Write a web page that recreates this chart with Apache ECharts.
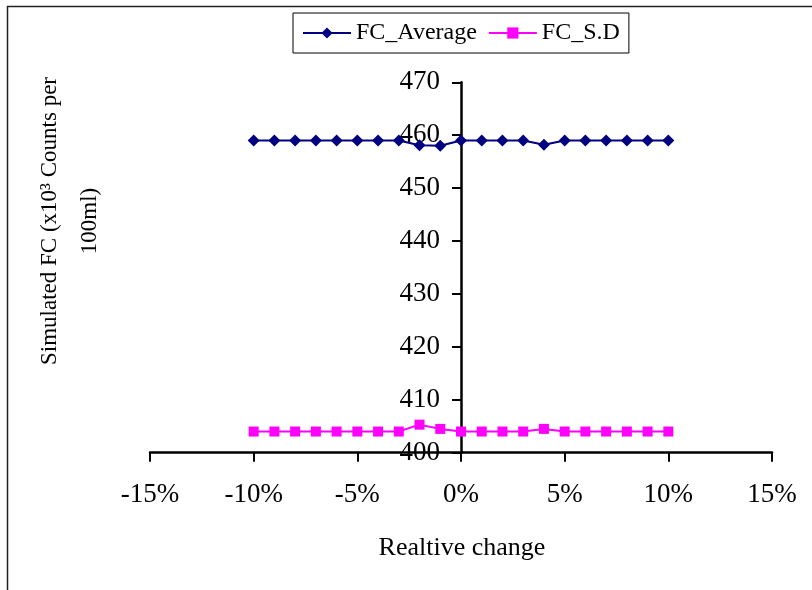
<!DOCTYPE html>
<html>
<head>
<meta charset="utf-8">
<script src="https://cdn.jsdelivr.net/npm/echarts@6/dist/echarts.min.js"></script>
<style>
  html, body { margin: 0; padding: 0; background: #fff; }
  #chart { width: 812px; height: 590px; }
</style>
</head>
<body>
<div id="chart"></div>
<script>
// Relative change of the input parameter (%)
const relChange = [-10, -9, -8, -7, -6, -5, -4, -3, -2, -1, 0, 1, 2, 3, 4, 5, 6, 7, 8, 9, 10];
// Simulated FC average (x10^3 counts per 100 ml)
const fcAverage = [459, 459, 459, 459, 459, 459, 459, 459, 458.1, 458, 459, 459, 459, 459, 458.2, 459, 459, 459, 459, 459, 459];
// Simulated FC standard deviation
const fcSD = [404, 404, 404, 404, 404, 404, 404, 404, 405.3, 404.5, 404, 404, 404, 404, 404.5, 404, 404, 404, 404, 404, 404];
// Axis ticks
const xTicks = { min: -15, max: 15, step: 5 };
const yTicks = { min: 400, max: 470, step: 10 };

const FONT = '"Liberation Serif", "Times New Roman", serif';

const GRID = { left: 150, right: 40, top: 82.3, bottom: 137.3 };
const plotWidth = 812 - GRID.left - GRID.right;
// the vertical axis crosses the horizontal one at 0 %
const yAxisOffset = -plotWidth * (0 - xTicks.min) / (xTicks.max - xTicks.min);

const chart = echarts.init(document.getElementById('chart'), null, { renderer: 'canvas' });

const pairs = (ys) => relChange.map((x, i) => [x, ys[i]]);

chart.setOption({
  animation: false,
  backgroundColor: '#fff',
  grid: Object.assign({ containLabel: false }, GRID),
  legend: {
    left: 293,
    top: 13,
    padding: [8, 9, 8, 9],
    borderColor: '#000',
    borderWidth: 1,
    itemWidth: 48,
    itemHeight: 14,
    itemGap: 11,
    textStyle: { fontFamily: FONT, fontSize: 24, color: '#000' },
    data: ['FC_Average', 'FC_S.D']
  },
  xAxis: {
    type: 'value',
    min: xTicks.min,
    max: xTicks.max,
    interval: xTicks.step,
    splitLine: { show: false },
    axisLine: { show: true, onZero: false, lineStyle: { color: '#000', width: 2.5 } },
    axisTick: { show: true, length: 9, lineStyle: { color: '#000', width: 2 } },
    axisLabel: {
      margin: 29,
      fontFamily: FONT,
      fontSize: 27,
      color: '#000',
      formatter: (v) => v + '%'
    }
  },
  yAxis: {
    type: 'value',
    min: yTicks.min,
    max: yTicks.max,
    interval: yTicks.step,
    offset: yAxisOffset,
    splitLine: { show: false },
    axisLine: { show: true, onZero: false, lineStyle: { color: '#000', width: 2.5 } },
    axisTick: { show: true, length: 9, lineStyle: { color: '#000', width: 2 } },
    axisLabel: { margin: 21, fontFamily: FONT, fontSize: 27, color: '#000' }
  },
  series: [
    {
      name: 'FC_Average',
      type: 'line',
      data: pairs(fcAverage),
      symbol: 'diamond',
      symbolSize: 12,
      itemStyle: { color: '#000080' },
      lineStyle: { color: '#000080', width: 2 },
      z: 5
    },
    {
      name: 'FC_S.D',
      type: 'line',
      data: pairs(fcSD),
      symbol: 'rect',
      symbolSize: 10,
      itemStyle: { color: '#FF00FF' },
      lineStyle: { color: '#FF00FF', width: 2 },
      z: 5
    }
  ],
  graphic: [
    {
      type: 'polyline',
      shape: { points: [[7.5, 590], [7.5, 6.5], [812, 6.5]] },
      style: { stroke: '#222', lineWidth: 1.5, fill: null },
      silent: true
    },
    {
      type: 'text',
      x: 70,
      y: 221,
      rotation: Math.PI / 2,
      style: {
        text: 'Simulated FC (x10³ Counts per\n100ml)',
        font: '23px ' + FONT,
        fill: '#000',
        align: 'center',
        verticalAlign: 'middle',
        lineHeight: 40
      },
      silent: true
    },
    {
      type: 'text',
      x: 462,
      y: 548,
      style: {
        text: 'Realtive change',
        font: '26px ' + FONT,
        fill: '#000',
        align: 'center',
        verticalAlign: 'middle'
      },
      silent: true
    }
  ]
});
</script>
</body>
</html>
